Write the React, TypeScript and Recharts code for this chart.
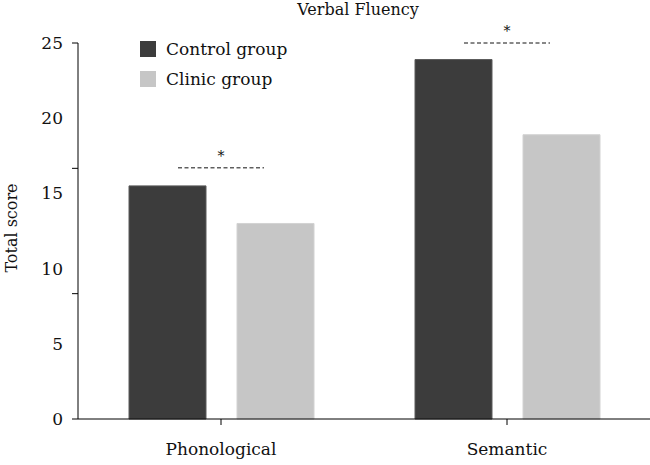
import React from "react";
import {
  BarChart,
  Bar,
  XAxis,
  YAxis,
  Legend,
  ReferenceLine,
} from "recharts";

const categories = ["Phonological", "Semantic"];
const controlScores = [15.5, 23.9];
const clinicScores = [13.0, 18.9];
const yTickLabels = [0, 5, 10, 15, 20, 25];
const yTickMarks = [0, 25 / 3, 50 / 3, 25];
const significance = [
  { category: "Phonological", y: 16.7, mark: "*" },
  { category: "Semantic", y: 25, mark: "*" },
];

const FONT = '"DejaVu Serif", serif';
const DARK = "#3c3c3c";
const LIGHT = "#c6c6c6";
const BRACKET_HALF = 43;

const data = categories.map((c, i) => ({
  name: c,
  control: controlScores[i],
  clinic: clinicScores[i],
}));

const yTicks = Array.from(new Set([...yTickLabels, ...yTickMarks])).sort(
  (a, b) => a - b
);

function YTick(props: any) {
  const { x, y, payload } = props;
  const v = payload.value;
  const isLabel = yTickLabels.some((t) => Math.abs(t - v) < 1e-6);
  const isMark = yTickMarks.some((t) => Math.abs(t - v) < 1e-6);
  return (
    <g>
      {isMark && (
        <line x1={x + 9} x2={x + 15} y1={y} y2={y} stroke="#000" strokeWidth={1} />
      )}
      {isLabel && (
        <text
          x={x}
          y={y}
          dy="0.35em"
          textAnchor="end"
          fontFamily={FONT}
          fontSize={17}
          fill="#111"
        >
          {v}
        </text>
      )}
    </g>
  );
}

// dashed significance line centred on the category, with a star above it
function SigLine(props: any) {
  const { x1, y1, mark } = props;
  if (x1 == null || y1 == null) return null;
  return (
    <g>
      <line
        x1={x1 - BRACKET_HALF}
        x2={x1 + BRACKET_HALF}
        y1={y1}
        y2={y1}
        stroke="#111"
        strokeWidth={1}
        strokeDasharray="4 2.5"
      />
      <text
        x={x1}
        y={y1 - 7}
        textAnchor="middle"
        fontFamily={FONT}
        fontSize={14}
        fill="#111"
      >
        {mark}
      </text>
    </g>
  );
}

function LegendContent() {
  const items = [
    { label: "Control group", color: DARK },
    { label: "Clinic group", color: LIGHT },
  ];
  return (
    <div style={{ fontFamily: FONT, fontSize: 17, color: "#111" }}>
      {items.map((it) => (
        <div
          key={it.label}
          style={{ display: "flex", alignItems: "center", height: 30 }}
        >
          <span
            style={{
              display: "inline-block",
              width: 16,
              height: 16,
              background: it.color,
              marginRight: 10,
            }}
          />
          <span>{it.label}</span>
        </div>
      ))}
    </div>
  );
}

export default function App() {
  return (
    <div style={{ position: "relative", width: 650, height: 465 }}>
      <style>{`body{margin:0}`}</style>
      <div
        style={{
          position: "absolute",
          top: 0,
          left: 258,
          width: 200,
          textAlign: "center",
          fontFamily: FONT,
          fontSize: 16,
          color: "#111",
          lineHeight: "20px",
        }}
      >
        Verbal Fluency
      </div>
      <BarChart
        width={650}
        height={465}
        data={data}
        margin={{ top: 43, right: 0, bottom: 0, left: 0 }}
        barSize={77}
        barGap={31}
      >
        <XAxis
          dataKey="name"
          height={46}
          tickSize={6}
          tickMargin={18}
          axisLine={{ stroke: "#000" }}
          tickLine={{ stroke: "#000" }}
          tick={{ fontFamily: FONT, fontSize: 17, fill: "#111" }}
        />
        <YAxis
          domain={[0, 25]}
          ticks={yTicks}
          width={78}
          tickSize={6}
          tickMargin={9}
          tickLine={false}
          axisLine={{ stroke: "#000" }}
          tick={<YTick />}
          interval={0}
          label={{
            value: "Total score",
            angle: -90,
            position: "insideLeft",
            offset: 11,
            dy: -3,
            style: { fontFamily: FONT, fontSize: 16, fill: "#111", textAnchor: "middle" },
          }}
        />
        <Legend
          layout="vertical"
          align="center"
          verticalAlign="middle"
          wrapperStyle={{ top: 34, left: 140 }}
          content={<LegendContent />}
        />
        <Bar
          dataKey="control"
          name="Control group"
          fill={DARK}
          stroke="#5a5a5a"
          strokeWidth={1}
          isAnimationActive={false}
        />
        <Bar
          dataKey="clinic"
          name="Clinic group"
          fill={LIGHT}
          stroke="#d2d2d2"
          strokeWidth={1}
          isAnimationActive={false}
        />
        {significance.map((s) => (
          <ReferenceLine
            key={s.category}
            segment={[
              { x: s.category, y: s.y },
              { x: s.category, y: s.y },
            ]}
            ifOverflow="visible"
            shape={(p: any) => <SigLine {...p} mark={s.mark} />}
          />
        ))}
      </BarChart>
    </div>
  );
}
